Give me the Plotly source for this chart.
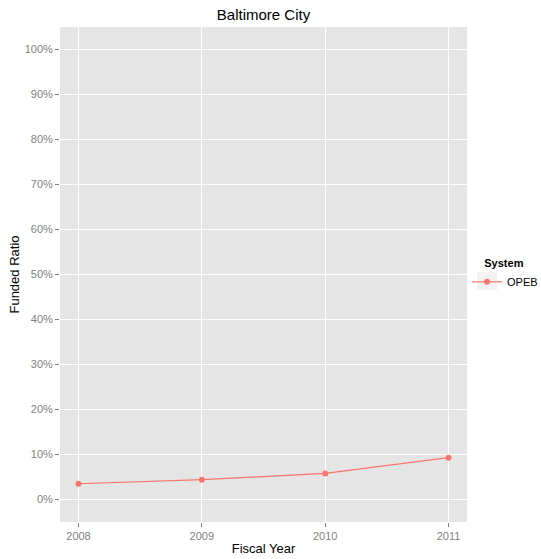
import plotly.graph_objects as go

years = [2008, 2009, 2010, 2011]
opeb = [0.035, 0.044, 0.058, 0.093]
y_ticks = [i / 10 for i in range(0, 11)]
y_tick_labels = [f"{i*10}%" for i in range(0, 11)]
x_ticks = [2008, 2009, 2010, 2011]

FONT = "Liberation Sans, Arial, Helvetica, sans-serif"
RED = "#F8766D"
W, H = 541, 559
L, R, T, B = 60, 74, 27, 37

fig = go.Figure()
fig.add_trace(go.Scatter(
    x=years, y=opeb, mode="lines+markers", name="OPEB",
    line=dict(color=RED, width=1.2),
    marker=dict(color=RED, size=6),
))

# light grey legend key background (ggplot style)
pw, ph = W - L - R, H - T - B
fig.add_shape(type="rect", xref="paper", yref="paper", layer="below",
              x0=(477 - L) / pw, x1=(497 - L) / pw,
              y0=(H - B - 290) / ph, y1=(H - B - 272) / ph,
              fillcolor="#F2F2F2", line=dict(width=0))

fig.update_layout(
    width=W, height=H,
    margin=dict(l=L, r=R, t=T, b=B, autoexpand=False),
    paper_bgcolor="white",
    plot_bgcolor="#E5E5E5",
    font=dict(family=FONT, color="black"),
    title=dict(text="Baltimore City", x=(L + (W - R)) / 2 / W, xanchor="center",
               y=1 - 15 / H, yanchor="middle",
               font=dict(size=15, color="black", family=FONT)),
    xaxis=dict(
        range=[2007.85, 2011.15], tickvals=x_ticks, ticktext=[str(v) for v in x_ticks],
        showgrid=True, gridcolor="white", gridwidth=1.2, zeroline=False,
        ticks="outside", ticklen=4, tickcolor="#7F7F7F", tickwidth=1,
        tickfont=dict(size=11, color="#7F7F7F", family=FONT),
        title=dict(text="Fiscal Year", font=dict(size=13, color="black", family=FONT), standoff=2),
        showline=False, automargin=True,
    ),
    yaxis=dict(
        range=[-0.05, 1.05], tickvals=y_ticks, ticktext=y_tick_labels,
        showgrid=True, gridcolor="white", gridwidth=1.2, zeroline=False,
        ticks="outside", ticklen=4, tickcolor="#7F7F7F", tickwidth=1,
        tickfont=dict(size=11, color="#7F7F7F", family=FONT),
        title=dict(text="Funded Ratio", font=dict(size=13, color="black", family=FONT), standoff=2),
        showline=False, automargin=True,
    ),
    showlegend=True,
    legend=dict(
        xref="container", yref="container",
        x=467 / W, xanchor="left", y=1 - 253 / H, yanchor="top",
        title=dict(text="&nbsp;&nbsp;&nbsp;&nbsp;&nbsp;<b>System</b>",
                   font=dict(size=11, color="black", family=FONT), side="top"),
        font=dict(size=11, color="black", family=FONT),
        bgcolor="rgba(0,0,0,0)", itemwidth=30,
    ),
)

fig.write_html("out.html", config={"displayModeBar": False},
               post_script="document.body.style.margin='0';")
